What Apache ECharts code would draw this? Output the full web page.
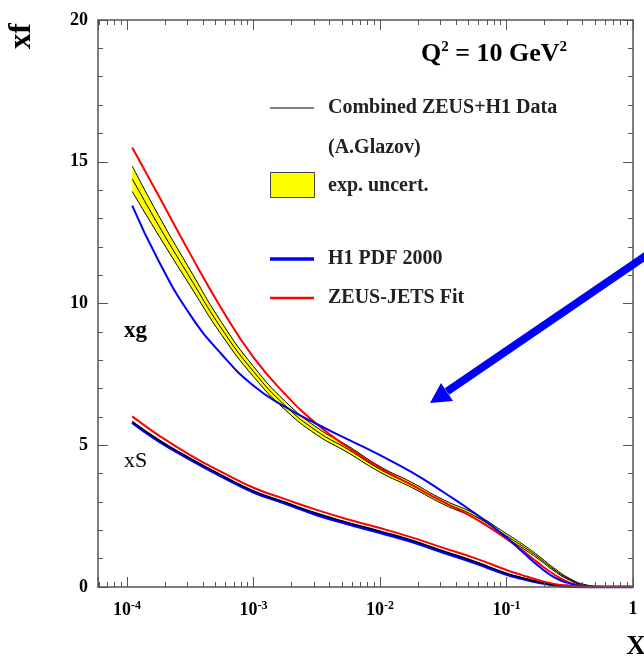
<!DOCTYPE html>
<html><head><meta charset="utf-8">
<script src="https://cdn.jsdelivr.net/npm/echarts@6/dist/echarts.min.js"></script>
<style>html,body{margin:0;padding:0;background:#fff;}#c{width:644px;height:658px;}</style>
</head><body><div id="c"></div>
<script>
// x positions of the sampled points (values of x)
const xValues   = [1.1e-4, 1.78e-4, 3.16e-4, 5.62e-4, 1e-3, 1.78e-3, 3.16e-3, 5.62e-3, 1e-2, 1.78e-2, 3.16e-2, 5.62e-2, 0.1, 0.133, 0.178, 0.237, 0.316, 0.422, 0.562, 1.0];
// xg : combined ZEUS+H1 data (central, lower and upper edge of exp. uncert.)
const xgData    = [14.40, 12.75, 10.90, 9.10, 7.60, 6.40, 5.50, 4.85, 4.15, 3.60, 3.00, 2.50, 1.80, 1.45, 1.05, 0.62, 0.27, 0.06, 0.01, 0];
const xgLow     = [13.95, 12.40, 10.62, 8.88, 7.42, 6.25, 5.37, 4.73, 4.05, 3.51, 2.92, 2.42, 1.72, 1.38, 0.99, 0.57, 0.24, 0.04, 0.00, 0];
const xgHigh    = [14.85, 13.10, 11.18, 9.32, 7.78, 6.55, 5.63, 4.97, 4.25, 3.69, 3.08, 2.58, 1.88, 1.52, 1.11, 0.67, 0.30, 0.08, 0.02, 0];
const xgZeusJets= [15.50, 13.80, 11.75, 9.80, 8.10, 6.80, 5.75, 4.92, 4.20, 3.60, 3.00, 2.42, 1.70, 1.30, 0.85, 0.45, 0.15, 0.03, 0.00, 0];
const xgH1      = [13.45, 11.50, 9.60, 8.20, 7.10, 6.35, 5.75, 5.20, 4.65, 4.05, 3.35, 2.60, 1.75, 1.25, 0.75, 0.35, 0.12, 0.02, 0.00, 0];
// xS
const xsData    = [5.83, 5.19, 4.54, 3.94, 3.39, 2.99, 2.60, 2.27, 1.97, 1.65, 1.27, 0.90, 0.48, 0.32, 0.18, 0.08, 0.02, 0.00, 0, 0];
const xsZeusJets= [6.02, 5.35, 4.65, 4.05, 3.50, 3.10, 2.72, 2.38, 2.08, 1.75, 1.38, 1.02, 0.60, 0.42, 0.25, 0.11, 0.04, 0.01, 0, 0];
const xsH1      = [5.80, 5.15, 4.50, 3.90, 3.35, 2.95, 2.55, 2.22, 1.92, 1.60, 1.22, 0.85, 0.45, 0.30, 0.17, 0.07, 0.02, 0.00, 0, 0];
// tick labels
const xTickValues = [1e-4, 1e-3, 1e-2, 1e-1, 1];
const xTickLabels = ['{b|10}{s|-4}', '{b|10}{s|-3}', '{b|10}{s|-2}', '{b|10}{s|-1}', '{b|1}'];
const xMin = 5.9e-5, xMax = 1;

const pair = (ys) => xValues.map((x, i) => [x, ys[i]]);
// y first so that the stack is applied to the y dimension
const pairYX = (ys) => xValues.map((x, i) => [ys[i], x]);
const bandWidth = xgHigh.map((h, i) => +(h - xgLow[i]).toFixed(4));

const serif = '"Liberation Serif", "DejaVu Serif", serif';
const frame = '#555';
const SM = 0.5;

const xAxisBase = {
  type: 'log', logBase: 10, min: xMin, max: xMax, z: 10,
  axisLine: { show: true, onZero: false, lineStyle: { color: frame, width: 1.5 } },
  axisTick: { show: true, inside: true, length: 10, lineStyle: { color: frame, width: 1 } },
  minorTick: { show: true, splitNumber: 9, length: 5, lineStyle: { color: frame, width: 1 } },
  splitLine: { show: false }, minorSplitLine: { show: false }
};
const yAxisBase = {
  type: 'value', min: 0, max: 20, interval: 5, z: 10,
  axisLine: { show: true, onZero: false, lineStyle: { color: frame, width: 1.5 } },
  axisTick: { show: true, inside: true, length: 10, lineStyle: { color: frame, width: 1 } },
  minorTick: { show: true, splitNumber: 5, length: 5, lineStyle: { color: frame, width: 1 } },
  splitLine: { show: false }, minorSplitLine: { show: false }
};

const chart = echarts.init(document.getElementById('c'), null, { renderer: 'canvas' });
chart.setOption({
  animation: false,
  backgroundColor: '#fff',
  grid: { left: 98, right: 11, top: 20, bottom: 71, containLabel: false },
  xAxis: [
    Object.assign({}, xAxisBase, {
      position: 'bottom',
      axisLabel: {
        show: true, margin: 13, color: '#000', fontFamily: serif, fontWeight: 'bold', fontSize: 18,
        formatter: (v) => {
          const k = xTickValues.findIndex(t => Math.abs(Math.log10(t) - Math.log10(v)) < 1e-6);
          return k >= 0 ? xTickLabels[k] : '';
        },
        rich: {
          b: { fontFamily: serif, fontWeight: 'bold', fontSize: 18, color: '#000' },
          s: { fontFamily: serif, fontWeight: 'bold', fontSize: 12, color: '#000', padding: [0, 0, 9, 0] }
        }
      }
    }),
    Object.assign({}, xAxisBase, { position: 'top', axisLabel: { show: false } })
  ],
  yAxis: [
    Object.assign({}, yAxisBase, {
      position: 'left',
      axisLabel: { show: true, margin: 10, color: '#000', fontFamily: serif, fontWeight: 'bold', fontSize: 18 }
    }),
    Object.assign({}, yAxisBase, { position: 'right', axisLabel: { show: false } })
  ],
  series: [
    { name: 'band-low', type: 'line', stack: 'xgBand', data: pairYX(xgLow), encode: { x: 1, y: 0 },
      smooth: SM, symbol: 'none', lineStyle: { color: '#000', width: 1 }, z: 2 },
    { name: 'exp. uncert.', type: 'line', stack: 'xgBand', data: pairYX(bandWidth), encode: { x: 1, y: 0 },
      smooth: SM, symbol: 'none', lineStyle: { color: '#000', width: 1 }, areaStyle: { color: '#ffff00', opacity: 1 }, z: 2 },
    { name: 'Combined ZEUS+H1 Data', type: 'line', data: pair(xgData), smooth: SM, symbol: 'none',
      lineStyle: { color: '#000', width: 1 }, z: 3 },
    { name: 'ZEUS-JETS Fit', type: 'line', data: pair(xgZeusJets), smooth: SM, symbol: 'none',
      lineStyle: { color: '#ff0000', width: 2 }, z: 4 },
    { name: 'H1 PDF 2000', type: 'line', data: pair(xgH1), smooth: SM, symbol: 'none',
      lineStyle: { color: '#0000ff', width: 2 }, z: 4 },
    { name: 'xS H1', type: 'line', data: pair(xsH1), smooth: SM, symbol: 'none',
      lineStyle: { color: '#0000ff', width: 3 }, z: 3 },
    { name: 'xS data', type: 'line', data: pair(xsData), smooth: SM, symbol: 'none',
      lineStyle: { color: '#000', width: 1.5 }, z: 4 },
    { name: 'xS ZEUS-JETS', type: 'line', data: pair(xsZeusJets), smooth: SM, symbol: 'none',
      lineStyle: { color: '#ff0000', width: 2 }, z: 5 }
  ],
  graphic: [
    // axis titles
    { type: 'text', x: 22, y: 36, rotation: Math.PI / 2, z: 10,
      style: { text: 'xf', font: 'bold 31px ' + serif, fill: '#000', align: 'center', verticalAlign: 'middle' } },
    { type: 'text', x: 636, y: 647, z: 10,
      style: { text: 'X', font: 'bold 27px ' + serif, fill: '#000', align: 'center', verticalAlign: 'middle' } },
    // Q^2 title
    { type: 'text', x: 421, y: 54, z: 10,
      style: { text: '{m|Q}{s|2}{m| = 10 GeV}{s|2}', align: 'left', verticalAlign: 'middle',
        rich: { m: { font: 'bold 26px ' + serif, fill: '#000' },
                s: { font: 'bold 15px ' + serif, fill: '#000', padding: [0, 0, 14, 0] } } } },
    // curve labels
    { type: 'text', x: 124, y: 331, z: 10, style: { text: 'xg', font: 'bold 23px ' + serif, fill: '#000', verticalAlign: 'middle' } },
    { type: 'text', x: 124, y: 461, z: 10, style: { text: 'xS', font: '22px ' + serif, fill: '#000', verticalAlign: 'middle' } },
    // legend
    { type: 'line', z: 10, shape: { x1: 270, y1: 108, x2: 314, y2: 108 }, style: { stroke: '#000', lineWidth: 1 } },
    { type: 'text', x: 328, y: 108, z: 10, style: { text: 'Combined ZEUS+H1 Data', font: 'bold 20px ' + serif, fill: '#222', verticalAlign: 'middle' } },
    { type: 'text', x: 328, y: 148, z: 10, style: { text: '(A.Glazov)', font: 'bold 20px ' + serif, fill: '#222', verticalAlign: 'middle' } },
    { type: 'rect', z: 10, shape: { x: 270.5, y: 172.5, width: 44, height: 25 }, style: { fill: '#ffff00', stroke: '#444', lineWidth: 1 } },
    { type: 'text', x: 328, y: 186, z: 10, style: { text: 'exp. uncert.', font: 'bold 20px ' + serif, fill: '#222', verticalAlign: 'middle' } },
    { type: 'line', z: 10, shape: { x1: 270, y1: 259, x2: 314, y2: 259 }, style: { stroke: '#0000ff', lineWidth: 3.5 } },
    { type: 'text', x: 328, y: 259, z: 10, style: { text: 'H1 PDF 2000', font: 'bold 20px ' + serif, fill: '#222', verticalAlign: 'middle' } },
    { type: 'line', z: 10, shape: { x1: 270, y1: 298, x2: 314, y2: 298 }, style: { stroke: '#ff0000', lineWidth: 2.5 } },
    { type: 'text', x: 328, y: 298, z: 10, style: { text: 'ZEUS-JETS Fit', font: 'bold 20px ' + serif, fill: '#222', verticalAlign: 'middle' } },
    // arrow annotation
    { type: 'line', z: 20, shape: { x1: 655, y1: 249.5, x2: 447, y2: 391.5 }, style: { stroke: '#0000ff', lineWidth: 8 } },
    { type: 'polygon', z: 20, shape: { points: [[430, 403], [453, 401], [441, 383]] }, style: { fill: '#0000ff' } }
  ]
});
</script>
</body></html>
